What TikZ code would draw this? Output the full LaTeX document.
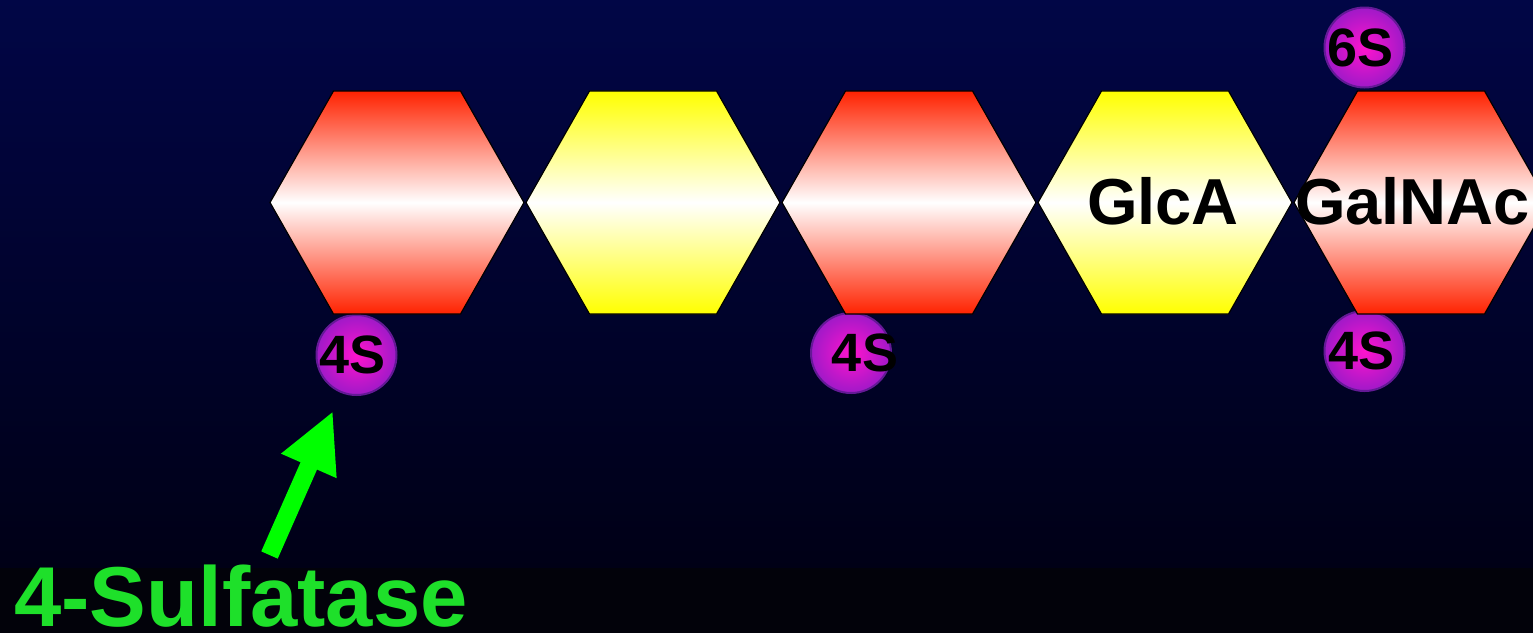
\documentclass[tikz,border=0pt]{standalone}
\usepackage{fontspec}
\setmainfont{Liberation Sans}
\usetikzlibrary{shapes.geometric,arrows.meta}
\definecolor{bgtop}{RGB}{1,6,70}
\definecolor{bgbot}{RGB}{0,0,22}
\definecolor{stripcol}{RGB}{2,2,10}
\definecolor{galred}{RGB}{255,34,0}
\definecolor{glcyel}{RGB}{255,255,0}
\definecolor{sulfin}{RGB}{255,20,205}
\definecolor{sulfout}{RGB}{160,25,200}
\definecolor{sulfedge}{RGB}{100,25,150}
\definecolor{enzgreen}{RGB}{30,224,42}
\definecolor{arrowgreen}{RGB}{0,255,0}
\begin{document}
\begin{tikzpicture}[x=1pt,y=-1pt,
  sugar/.style={regular polygon, regular polygon sides=6, minimum size=254pt,
    inner sep=0pt, outer sep=0pt, draw=black, line width=1.2pt,
    yscale=1.014, transform shape},
  galnac/.style={sugar, top color=galred, bottom color=galred, middle color=white},
  glca/.style={sugar, top color=glcyel, bottom color=glcyel, middle color=white},
  sulfball/.style={circle, minimum size=80pt, inner sep=0pt, draw=sulfedge,
    line width=2pt, inner color=sulfin, outer color=sulfout},
  sulftext/.style={inner sep=0pt, font=\bfseries\fontsize{54}{54}\selectfont, text=black},
  sugartext/.style={inner sep=0pt, font=\bfseries\fontsize{65}{65}\selectfont, text=black},
  enzyme/.style={inner sep=0pt, font=\bfseries\fontsize{85}{85}\selectfont, text=enzgreen},
  enzarrow/.style={draw=arrowgreen, line width=18pt, -{Triangle[length=60pt,width=56pt]}}
]
\clip (0,0) rectangle (1533,633);
\shade[top color=bgtop, bottom color=bgbot] (0,0) rectangle (1533,568);
\fill[stripcol] (0,568) rectangle (1533,633);

% sulfate balls (under the rings)
\node[sulfball] (s1) at (356.5,355) {};
\node[sulfball] (s3) at (851,353) {};
\node[sulfball] (s5) at (1364.5,351) {};
\node[sulfball] (s6) at (1364.5,47.5) {};

% sugar rings
\node[galnac] (h1) at (397,202.5) {};
\node[glca]   (h2) at (653,202.5) {};
\node[galnac] (h3) at (909,202.5) {};
\node[glca]   (h4) at (1165,202.5) {};
\node[galnac] (h5) at (1421,202.5) {};

% labels
\node[sulftext] (t1) at ([xshift=-4pt]s1) {4S};
\node[sulftext] (t3) at ([xshift=14pt]s3) {4S};
\node[sulftext] (t5) at ([xshift=-3pt]s5) {4S};
\node[sulftext] (t6) at ([xshift=-4pt]s6) {6S};
\node[sugartext] (l4) at (1163,201) {GlcA};
\node[sugartext] (l5) at (1412.5,201) {GalNAc};

\node[enzyme, anchor=base west] (enz) at (14,626) {4-Sulfatase};
\coordinate (arrowtail) at (269.5,555);
\coordinate (arrowtip) at (333,411);
\draw[enzarrow] (arrowtail) -- (arrowtip);
\end{tikzpicture}
\end{document}
